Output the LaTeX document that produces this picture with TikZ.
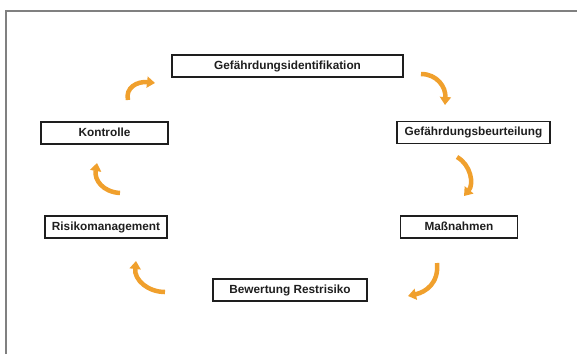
\documentclass[tikz,border=0pt]{standalone}
\usepackage{fontspec}
\setmainfont{Liberation Sans}
\usetikzlibrary{arrows.meta,positioning}

\definecolor{cycorange}{RGB}{240,160,45}
\definecolor{boxline}{RGB}{30,30,30}

\tikzset{
    stepbox/.style={draw=boxline, line width=1.7pt, minimum height=22pt, inner sep=2pt,
        text height=8.5pt, text depth=2.5pt,
        font=\fontsize{11.8}{14}\selectfont\bfseries, text=boxline},
    cyc/.style={cycorange, line width=4.5pt, -{Triangle[width=11pt,length=8pt]}}
}

\begin{document}
\begin{tikzpicture}[x=1pt,y=-1pt]
        \useasboundingbox (0,0) rectangle (577,354);

        % Frame
        \draw[gray, line width=1.3pt] (6,354) -- (6,11) -- (577,11);

        % Boxes
        \node[stepbox, minimum width=231pt] (ident) at (287.5,66) {Gefährdungsidentifikation};
        \node[stepbox, minimum width=153pt] (beurt) at (473.5,132.5) {Gefährdungsbeurteilung};
        \node[stepbox, minimum width=117pt] (mass) at (459,227) {Maßnahmen};
        \node[stepbox, minimum width=154pt] (rest) at (290,290) {Bewertung Restrisiko};
        \node[stepbox, minimum width=122pt] (risk) at (106,227) {Risikomanagement};
        \node[stepbox, minimum width=127pt] (kontr) at (104.5,133) {Kontrolle};

        % Arrow ends
        \coordinate (c1s) at (128,100);  \coordinate (c1e) at (155,83);
        \coordinate (c2s) at (421,74);   \coordinate (c2e) at (445,105);
        \coordinate (c3s) at (457,157);  \coordinate (c3e) at (464,196);
        \coordinate (c4s) at (437,263);  \coordinate (c4e) at (408,296);
        \coordinate (c5s) at (165,292);  \coordinate (c5e) at (136,261);
        \coordinate (c6s) at (120,193);  \coordinate (c6e) at (97,163);

        % Cycle arrows
        \draw[cyc] (c1s) .. controls (125,88) and (137,81) .. (c1e);
        \draw[cyc] (c2s) .. controls (437,74) and (446,87) .. (c2e);
        \draw[cyc] (c3s) .. controls (471,165) and (474,184) .. (c3e);
        \draw[cyc] (c4s) .. controls (439,283) and (426,292) .. (c4e);
        \draw[cyc] (c5s) .. controls (148,292) and (134,280) .. (c5e);
        \draw[cyc] (c6s) .. controls (103,192) and (94,180) .. (c6e);

    \end{tikzpicture}
\end{document}
